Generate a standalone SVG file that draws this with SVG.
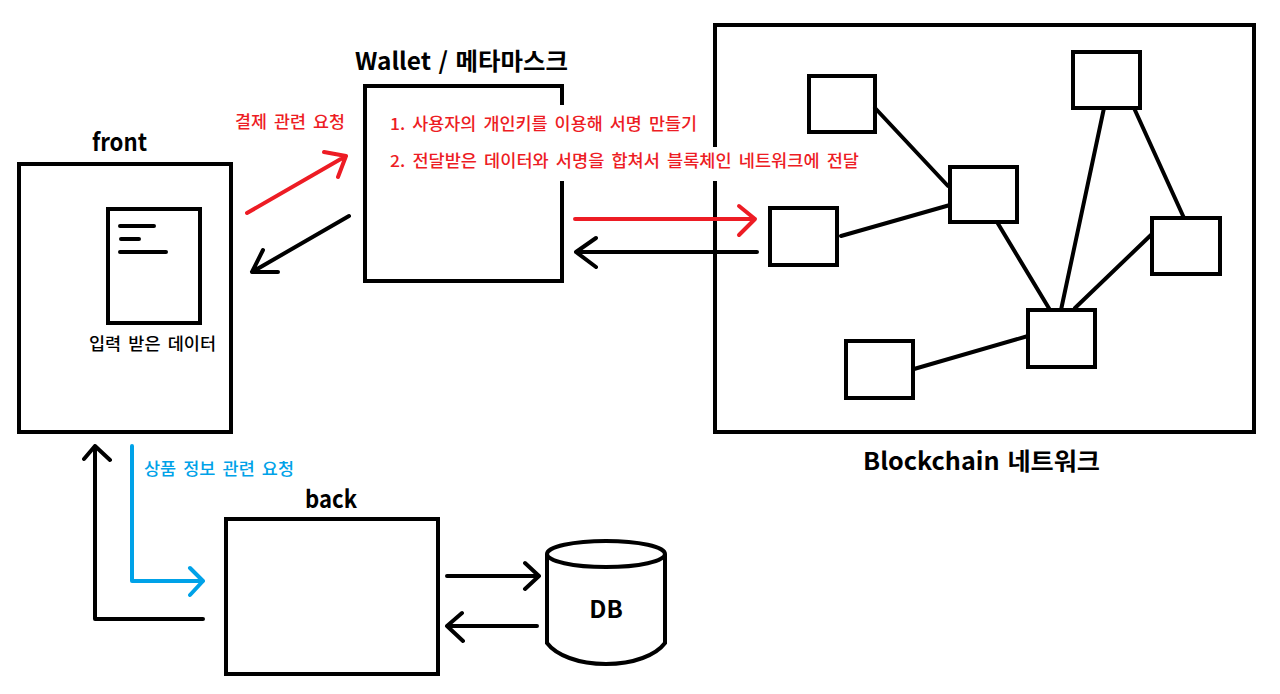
<svg xmlns="http://www.w3.org/2000/svg" width="1280" height="694" viewBox="0 0 1280 694">
<style>
.box{fill:#fff;stroke:#000;stroke-width:4}
.plain{fill:none;stroke:#000;stroke-width:4}
.k,.r,.b{fill:none;stroke-width:4;stroke-linecap:round;stroke-linejoin:round}
.k{stroke:#000}.r{stroke:#ed1c24}.b{stroke:#00a2e8}
text{font-family:"Noto Sans CJK KR","Noto Sans",sans-serif;font-weight:500}
.t{font-size:24px;fill:#000;font-weight:700;word-spacing:2px}
.s{font-size:16.5px;word-spacing:3px}
</style>
<rect width="1280" height="694" fill="#fff"/>
<g id="blockchain">
<path class="plain" d="M715 147V25H1254V432H715V181"/>
<text class="t" x="863" y="470" textLength="237" lengthAdjust="spacingAndGlyphs">Blockchain 네트워크</text>
</g>
<g id="wallet">
<path class="plain" d="M562 105V86H365V281H562V181"/>
<text class="t" x="355" y="70" textLength="213" lengthAdjust="spacingAndGlyphs">Wallet / 메타마스크</text>
<text class="s" x="390" y="130" fill="#ed1c24" textLength="307" lengthAdjust="spacingAndGlyphs">1. 사용자의 개인키를 이용해 서명 만들기</text>
<text class="s" x="390" y="167" fill="#ed1c24" textLength="469" lengthAdjust="spacingAndGlyphs">2. 전달받은 데이터와 서명을 합쳐서 블록체인 네트워크에 전달</text>
</g>
<g id="front">
<rect class="box" x="19" y="164" width="212" height="268"/>
<text class="t" x="92" y="151" textLength="55" lengthAdjust="spacingAndGlyphs">front</text>
</g>
<g id="document">
<rect class="box" x="108" y="209" width="92" height="114"/>
<path class="k" d="M120 226H154M121 239H139M120 252H166"/>
<text class="s" x="89" y="350" fill="#000" textLength="127" lengthAdjust="spacingAndGlyphs">입력 받은 데이터</text>
</g>
<g id="back">
<rect class="box" x="226" y="519" width="212" height="155"/>
<text class="t" x="305" y="508" textLength="52" lengthAdjust="spacingAndGlyphs">back</text>
</g>
<g id="db">
<path class="plain" d="M547 554V643C556 655 578 664 606 664C634 664 656 655 665 643V554"/>
<ellipse class="plain" cx="606" cy="554" rx="59" ry="13"/>
<text class="t" x="606" y="618" text-anchor="middle">DB</text>
</g>
<g id="n1"><rect class="box" x="809" y="76" width="66" height="56"/></g>
<g id="n2"><rect class="box" x="1073" y="52" width="67" height="56"/></g>
<g id="n3"><rect class="box" x="950" y="167" width="67" height="55"/></g>
<g id="n4"><rect class="box" x="770" y="208" width="67" height="57"/></g>
<g id="n5"><rect class="box" x="1152" y="218" width="68" height="56"/></g>
<g id="n6"><rect class="box" x="1028" y="310" width="67" height="57"/></g>
<g id="n7"><rect class="box" x="846" y="341" width="67" height="57"/></g>
<g id="labels">
<text class="s" x="235" y="128" fill="#ed1c24" textLength="110" lengthAdjust="spacingAndGlyphs">결제 관련 요청</text>
<text class="s" x="144" y="475" fill="#00a2e8" textLength="150" lengthAdjust="spacingAndGlyphs">상품 정보 관련 요청</text>
</g>
<g id="connectors">
<path class="k" d="M875 108L948 186M841 236L950 205M997 222L1050 310M1104 108L1061 310M1134 108L1184 218M1152 234L1075 308M914 369L1028 336"/>
<path class="r" d="M247 213L346 156M324 152L346 156L338 177"/>
<path class="k" d="M349 216L252 272M278 272H252L263 250"/>
<path class="r" d="M575 219H755M739 206L755 219L739 235"/>
<path class="k" d="M757 252H576M596 238L576 252L596 267"/>
<path class="b" d="M132 446V581H203M190 568L203 581L190 595"/>
<path class="k" d="M203 619H95V446M84 459L95 446L110 460"/>
<path class="k" d="M447 576H539M525 563L539 576L525 589"/>
<path class="k" d="M537 626H447M462 613L447 626L463 641"/>
</g>
</svg>
